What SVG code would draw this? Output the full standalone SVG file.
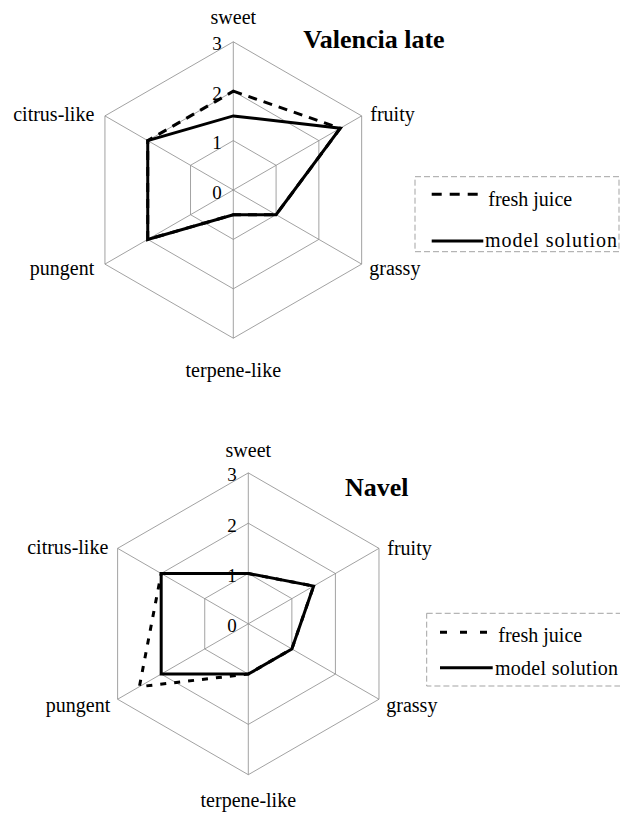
<svg xmlns="http://www.w3.org/2000/svg" width="620" height="813" viewBox="0 0 620 813">
<style>
text{font-family:"Liberation Serif","Times New Roman",serif;fill:#000}
.lab{font-size:20px}
.num{font-size:19px;text-anchor:end}
.title{font-size:26px;font-weight:bold}
.grid{fill:none;stroke:#8a8a8a;stroke-width:0.8}
.solid{fill:none;stroke:#000;stroke-width:3;stroke-linejoin:miter}
.dash{fill:none;stroke:#000;stroke-width:3;stroke-dasharray:9,7}
.dash2{fill:none;stroke:#000;stroke-width:3;stroke-dasharray:6,8}
.box{fill:none;stroke:#999;stroke-width:0.9;stroke-dasharray:6,3}
</style>
<rect width="620" height="813" fill="#fff"/>

<g id="valencia" transform="translate(233.3,190)">
  <g id="valencia-grid">
    <polygon class="grid" points="0,-49.4 42.78,-24.7 42.78,24.7 0,49.4 -42.78,24.7 -42.78,-24.7"/>
    <polygon class="grid" points="0,-98.8 85.56,-49.4 85.56,49.4 0,98.8 -85.56,49.4 -85.56,-49.4"/>
    <polygon class="grid" points="0,-148.2 128.35,-74.1 128.35,74.1 0,148.2 -128.35,74.1 -128.35,-74.1"/>
    <path class="grid" d="M0,0L0,-148.2M0,0L128.35,-74.1M0,0L128.35,74.1M0,0L0,148.2M0,0L-128.35,74.1M0,0L-128.35,-74.1"/>
  </g>
  <g id="valencia-data">
    <polygon class="dash" points="0,-98.8 106.96,-61.75 42.78,24.7 0,24.7 -85.56,49.4 -85.56,-49.4"/>
    <polygon class="solid" points="0,-74.1 106.96,-61.75 42.78,24.7 0,24.7 -85.56,49.4 -85.56,-49.4"/>
  </g>
  <g id="valencia-labels">
    <text class="num" x="-11.5" y="-139.7">3</text>
    <text class="num" x="-11.5" y="-90.3">2</text>
    <text class="num" x="-11.5" y="-40.9">1</text>
    <text class="num" x="-11.5" y="8.5">0</text>
    <text class="lab" x="0" y="-166" text-anchor="middle">sweet</text>
    <text class="lab" x="137" y="-69">fruity</text>
    <text class="lab" x="136" y="85">grassy</text>
    <text class="lab" x="0" y="186.5" text-anchor="middle">terpene-like</text>
    <text class="lab" x="-139" y="85" text-anchor="end">pungent</text>
    <text class="lab" x="-139" y="-69" text-anchor="end">citrus-like</text>
  </g>
</g>
<text id="title-valencia" class="title" x="303.3" y="48.3">Valencia late</text>

<g id="legend-top">
  <rect class="box" x="415" y="176.7" width="204" height="75"/>
  <line class="dash" x1="431.7" y1="194.3" x2="477.7" y2="194.3" style="stroke-dasharray:10,8"/>
  <text class="lab" x="488.3" y="206">fresh juice</text>
  <line class="solid" x1="431.7" y1="241" x2="483.3" y2="241"/>
  <text class="lab" x="485" y="247.3" textLength="132" lengthAdjust="spacing">model solution</text>
</g>

<g id="navel" transform="translate(248.3,623.8)">
  <g id="navel-grid">
    <polygon class="grid" points="0,-50.3 43.56,-25.15 43.56,25.15 0,50.3 -43.56,25.15 -43.56,-25.15"/>
    <polygon class="grid" points="0,-100.6 87.12,-50.3 87.12,50.3 0,100.6 -87.12,50.3 -87.12,-50.3"/>
    <polygon class="grid" points="0,-150.9 130.68,-75.45 130.68,75.45 0,150.9 -130.68,75.45 -130.68,-75.45"/>
    <path class="grid" d="M0,0L0,-150.9M0,0L130.68,-75.45M0,0L130.68,75.45M0,0L0,150.9M0,0L-130.68,75.45M0,0L-130.68,-75.45"/>
  </g>
  <g id="navel-data">
    <polygon class="dash2" points="0,-50.3 65.34,-37.73 43.56,25.15 0,50.3 -108.9,62.88 -87.12,-50.3"/>
    <polygon class="solid" points="0,-50.3 65.34,-37.73 43.56,25.15 0,50.3 -87.12,50.3 -87.12,-50.3"/>
  </g>
  <g id="navel-labels">
    <text class="num" x="-11.5" y="-142.4">3</text>
    <text class="num" x="-11.5" y="-92.1">2</text>
    <text class="num" x="-11.5" y="-41.8">1</text>
    <text class="num" x="-11.5" y="8.5">0</text>
    <text class="lab" x="0" y="-167" text-anchor="middle">sweet</text>
    <text class="lab" x="139" y="-69">fruity</text>
    <text class="lab" x="138" y="88">grassy</text>
    <text class="lab" x="0" y="183.5" text-anchor="middle">terpene-like</text>
    <text class="lab" x="-138" y="88" text-anchor="end">pungent</text>
    <text class="lab" x="-140" y="-69.5" text-anchor="end">citrus-like</text>
  </g>
</g>
<text id="title-navel" class="title" x="345" y="496">Navel</text>

<g id="legend-bottom">
  <rect class="box" x="426.7" y="613.3" width="200" height="72.7"/>
  <line class="dash" x1="440" y1="632.3" x2="487" y2="632.3" style="stroke-dasharray:7,13"/>
  <text class="lab" x="498.3" y="641.7">fresh juice</text>
  <line class="solid" x1="440" y1="667.7" x2="492.7" y2="667.7"/>
  <text class="lab" x="495" y="675" textLength="123" lengthAdjust="spacing">model solution</text>
</g>
</svg>
